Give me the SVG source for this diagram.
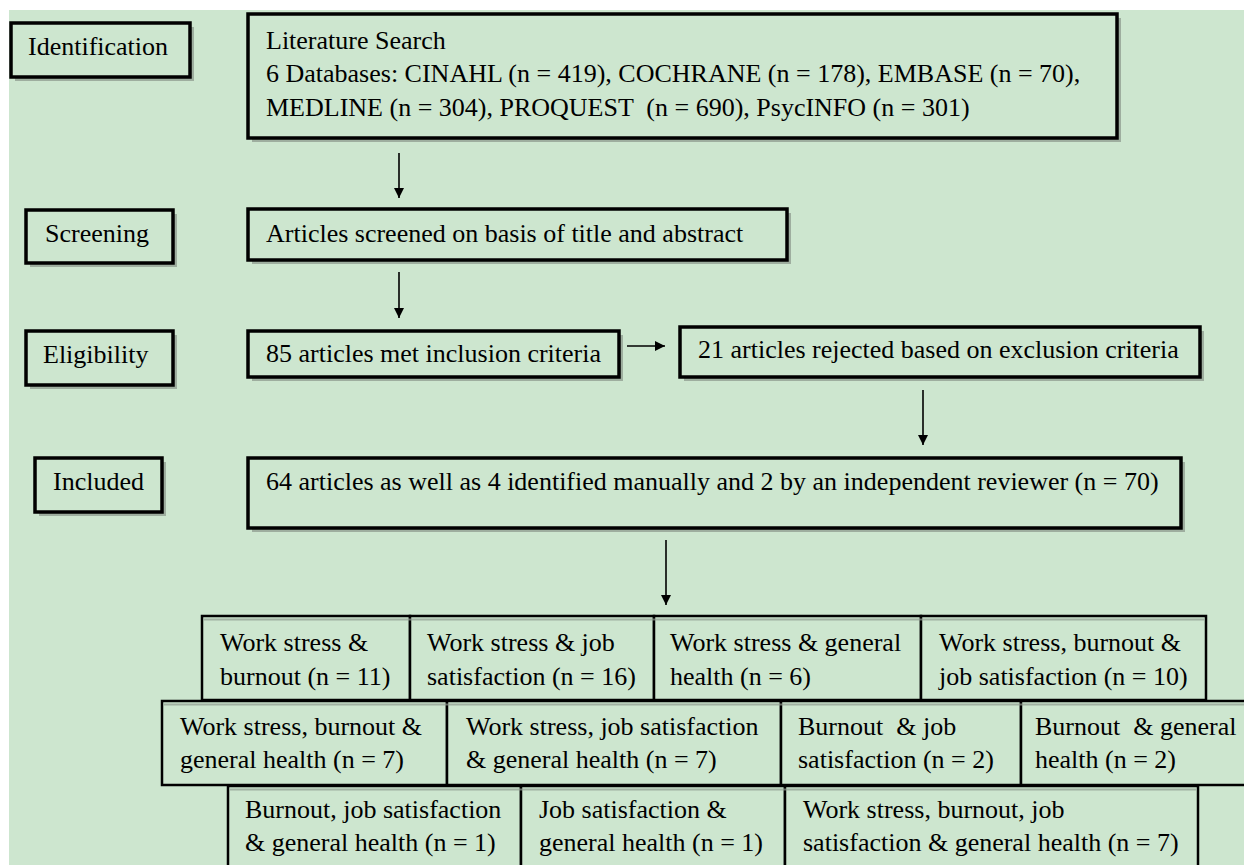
<svg xmlns="http://www.w3.org/2000/svg" width="1244" height="865" viewBox="0 0 1244 865">
<defs>
<marker id="ah" viewBox="0 0 10 10" refX="10" refY="5" markerWidth="10" markerHeight="10" markerUnits="userSpaceOnUse" orient="auto">
<path d="M0,0 L10,5 L0,10 Z" fill="#000"/>
</marker>
<style>
.bg{fill:#cde6cf}
.sh{fill:#7f897f;opacity:0.6}
.bx{fill:#cde6cf;stroke:#000;stroke-width:3.5}
.rb{fill:#cde6cf;stroke:#000;stroke-width:2.5}
.rs{fill:none;stroke:#8f9a8f;stroke-width:2;opacity:0.7}
text{font-family:'Liberation Serif','Times New Roman','DejaVu Serif',serif;font-size:26px;fill:#000;white-space:pre}
.c{stroke:#000;stroke-width:1.6;fill:none;marker-end:url(#ah)}
</style>
</defs>
<rect x="0" y="0" width="1244" height="865" fill="#fff"/>
<rect class="bg" x="9" y="10" width="1235" height="855"/>

<g id="n-identification">
<rect class="sh" x="15" y="27" width="179" height="54"/>
<rect class="bx" x="11" y="23" width="179" height="54"/>
<text x="28" y="55">Identification</text>
</g>
<g id="n-screening">
<rect class="sh" x="30" y="214" width="147" height="53"/>
<rect class="bx" x="26" y="210" width="147" height="53"/>
<text x="45" y="242">Screening</text>
</g>
<g id="n-eligibility">
<rect class="sh" x="30" y="335" width="147" height="54"/>
<rect class="bx" x="26" y="331" width="147" height="54"/>
<text x="43" y="363">Eligibility</text>
</g>
<g id="n-included">
<rect class="sh" x="39" y="462" width="127" height="54"/>
<rect class="bx" x="35" y="458" width="127" height="54"/>
<text x="53" y="490">Included</text>
</g>

<g id="n-search">
<rect class="sh" x="252" y="18" width="869" height="124"/>
<rect class="bx" x="248" y="14" width="869" height="124"/>
<text x="266" y="49">Literature Search</text>
<text x="266" y="82">6 Databases: CINAHL (n = 419), COCHRANE (n = 178), EMBASE (n = 70),</text>
<text x="266" y="116">MEDLINE (n = 304), PROQUEST  (n = 690), PsycINFO (n = 301)</text>
</g>
<g id="n-screened">
<rect class="sh" x="252" y="213" width="539" height="51"/>
<rect class="bx" x="248" y="209" width="539" height="51"/>
<text x="266" y="242">Articles screened on basis of title and abstract</text>
</g>
<g id="n-met">
<rect class="sh" x="252" y="335" width="371" height="46"/>
<rect class="bx" x="248" y="331" width="371" height="46"/>
<text x="266" y="362">85 articles met inclusion criteria</text>
</g>
<g id="n-rejected">
<rect class="sh" x="684" y="331" width="520" height="50"/>
<rect class="bx" x="680" y="327" width="520" height="50"/>
<text x="698" y="358">21 articles rejected based on exclusion criteria</text>
</g>
<g id="n-included70">
<rect class="sh" x="252" y="462" width="933" height="70"/>
<rect class="bx" x="248" y="458" width="933" height="70"/>
<text x="266" y="490">64 articles as well as 4 identified manually and 2 by an independent reviewer (n = 70)</text>
</g>

<g id="connectors">
<line class="c" x1="399" y1="153" x2="399" y2="198"/>
<line class="c" x1="399" y1="272" x2="399" y2="318"/>
<line class="c" x1="627" y1="346" x2="665" y2="346"/>
<line class="c" x1="923" y1="390" x2="923" y2="445"/>
<line class="c" x1="666" y1="540" x2="666" y2="605"/>
</g>

<g id="n-r1a">
<rect class="rb" x="202" y="616" width="208" height="84"/>
<text x="220" y="651">Work stress &amp;</text>
<text x="220" y="685">burnout (n = 11)</text>
</g>
<g id="n-r1b">
<rect class="rb" x="410" y="616" width="244" height="84"/>
<text x="427" y="651">Work stress &amp; job</text>
<text x="427" y="685">satisfaction (n = 16)</text>
</g>
<g id="n-r1c">
<rect class="rb" x="654" y="616" width="267" height="84"/>
<text x="670" y="651">Work stress &amp; general</text>
<text x="670" y="685">health (n = 6)</text>
</g>
<g id="n-r1d">
<rect class="rb" x="921" y="616" width="285" height="84"/>
<text x="939" y="651">Work stress, burnout &amp;</text>
<text x="939" y="685">job satisfaction (n = 10)</text>
</g>

<g id="n-r2a">
<rect class="rb" x="162" y="701" width="285" height="84"/>
<text x="180" y="735">Work stress, burnout &amp;</text>
<text x="180" y="768">general health (n = 7)</text>
</g>
<g id="n-r2b">
<rect class="rb" x="447" y="701" width="334" height="84"/>
<text x="466" y="735">Work stress, job satisfaction</text>
<text x="466" y="768">&amp; general health (n = 7)</text>
</g>
<g id="n-r2c">
<rect class="rb" x="781" y="701" width="240" height="84"/>
<text x="798" y="735">Burnout  &amp; job</text>
<text x="798" y="768">satisfaction (n = 2)</text>
</g>
<g id="n-r2d">
<rect class="rb" x="1021" y="701" width="240" height="84"/>
<text x="1035" y="735">Burnout  &amp; general</text>
<text x="1035" y="768">health (n = 2)</text>
</g>

<g id="n-r3a">
<rect class="rb" x="228" y="786" width="293" height="90"/>
<text x="245" y="818">Burnout, job satisfaction</text>
<text x="245" y="851">&amp; general health (n = 1)</text>
</g>
<g id="n-r3b">
<rect class="rb" x="521" y="786" width="264" height="90"/>
<text x="539" y="818">Job satisfaction &amp;</text>
<text x="539" y="851">general health (n = 1)</text>
</g>
<g id="n-r3c">
<rect class="rb" x="785" y="786" width="413" height="90"/>
<text x="803" y="818">Work stress, burnout, job</text>
<text x="803" y="851">satisfaction &amp; general health (n = 7)</text>
</g>

<g id="row-shadows">
<line class="rs" x1="204" y1="619.5" x2="1204" y2="619.5"/>
<line class="rs" x1="164" y1="704.5" x2="1244" y2="704.5"/>
<line class="rs" x1="230" y1="789.5" x2="1196" y2="789.5"/>
</g>
</svg>
